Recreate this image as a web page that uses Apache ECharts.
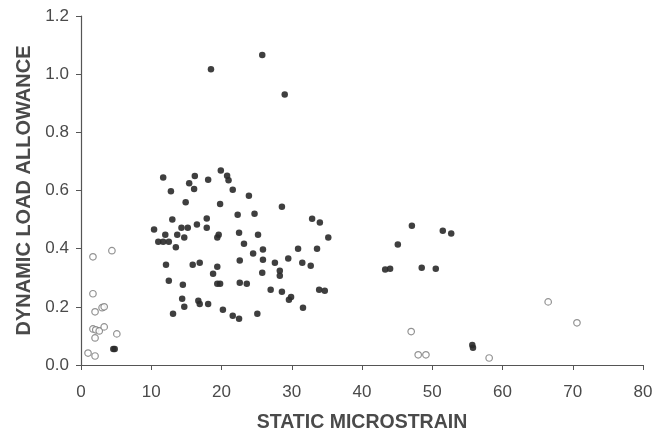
<!DOCTYPE html>
<html>
<head>
<meta charset="utf-8">
<script src="https://cdn.jsdelivr.net/npm/echarts@6/dist/echarts.min.js"></script>
<style>html,body{margin:0;padding:0;background:#fff}#c{width:659px;height:432px}</style>
</head>
<body>
<div id="c"></div>
<script>
// Filled points: [static microstrain, dynamic load allowance]
const filledPoints = [
  [18.5,1.017],[25.8,1.066],[29.0,0.930],
  [11.7,0.645],[12.8,0.597],[16.2,0.650],[15.4,0.625],[16.1,0.605],[18.1,0.637],
  [14.9,0.560],[19.8,0.554],[19.9,0.669],[20.8,0.651],[21.0,0.635],[21.6,0.603],
  [23.9,0.582],[22.3,0.517],[24.7,0.520],[28.6,0.544],[32.9,0.503],[34.0,0.490],
  [13.0,0.500],[17.9,0.504],
  [10.4,0.466],[12.0,0.448],[11.0,0.424],[11.7,0.424],[12.5,0.424],
  [14.3,0.472],[15.2,0.472],[16.5,0.483],[17.9,0.472],[13.7,0.448],[14.7,0.438],
  [13.5,0.405],[19.6,0.448],[19.4,0.438],[22.5,0.455],[23.2,0.417],[25.2,0.448],
  [35.2,0.438],[24.5,0.383],[25.9,0.397],[30.9,0.400],[33.6,0.400],
  [12.1,0.345],[15.9,0.345],[16.9,0.352],[19.4,0.338],[18.8,0.314],[22.6,0.359],
  [25.9,0.362],[27.6,0.352],[29.5,0.366],[31.5,0.352],[32.7,0.341],
  [28.3,0.324],[28.3,0.307],[25.8,0.317],
  [12.5,0.290],[14.5,0.276],[19.4,0.279],[19.8,0.279],[22.6,0.283],[23.6,0.279],
  [27.0,0.259],[28.6,0.252],[33.9,0.259],[34.7,0.255],[29.9,0.234],[29.6,0.224],
  [14.4,0.228],[14.7,0.200],[16.7,0.221],[16.9,0.210],[18.1,0.210],[20.2,0.190],
  [31.6,0.197],[13.1,0.176],[21.6,0.169],[22.5,0.159],[25.1,0.176],
  [4.6,0.055],[4.8,0.055],
  [47.1,0.479],[51.5,0.462],[52.7,0.452],[45.1,0.414],[43.3,0.328],[44.0,0.331],
  [48.5,0.334],[50.5,0.331],[55.7,0.069],[55.8,0.059]
];
// Open circles
const openPoints = [
  [1.7,0.372],[4.4,0.393],[1.7,0.245],[2.0,0.183],[3.0,0.197],[3.3,0.200],
  [1.7,0.124],[2.1,0.121],[2.6,0.117],[3.3,0.131],[2.0,0.093],[5.1,0.107],
  [1.0,0.041],[2.0,0.031],
  [47.0,0.115],[48.0,0.035],[49.1,0.035],[58.1,0.024],[66.5,0.217],[70.6,0.145]
];
const xTicks = [0,10,20,30,40,50,60,70,80];
const yTicks = [0,0.2,0.4,0.6,0.8,1.0,1.2];
const xTitle = 'STATIC MICROSTRAIN';
const yTitle = 'DYNAMIC LOAD ALLOWANCE';

const chart = echarts.init(document.getElementById('c'), null, {renderer:'canvas'});
const axisCol = '#555';
const txtCol = '#4a4a4a';
const font = 'Liberation Sans';
chart.setOption({
  animation:false,
  backgroundColor:'#fff',
  grid:{left:81,right:16,top:16,bottom:67,containLabel:false,outerBoundsMode:'none'},
  xAxis:{
    type:'value',min:xTicks[0],max:xTicks[xTicks.length-1],interval:10,
    splitLine:{show:false},
    axisLine:{show:true,lineStyle:{color:axisCol,width:1.2}},
    axisTick:{show:true,inside:false,length:5,lineStyle:{color:axisCol}},
    axisLabel:{color:txtCol,fontFamily:font,fontSize:17,margin:19},
    name:xTitle,nameLocation:'middle',nameGap:48,
    nameTextStyle:{color:txtCol,fontFamily:font,fontWeight:'bold',fontSize:19.5}
  },
  yAxis:{
    type:'value',min:yTicks[0],max:yTicks[yTicks.length-1],interval:0.2,
    splitLine:{show:false},
    axisLine:{show:true,lineStyle:{color:axisCol,width:1.2}},
    axisTick:{show:true,inside:false,length:5,lineStyle:{color:axisCol}},
    axisLabel:{color:txtCol,fontFamily:font,fontSize:17,margin:12,formatter:v=>v.toFixed(1)},
    name:yTitle,nameLocation:'middle',nameGap:46,nameRotate:90,
    nameTextStyle:{color:txtCol,fontFamily:font,fontWeight:'bold',fontSize:20}
  },
  series:[
    {type:'scatter',data:filledPoints,symbol:'circle',symbolSize:6.5,
     itemStyle:{color:'#2a2a2a',opacity:0.9}},
    {type:'scatter',data:openPoints,symbol:'circle',symbolSize:6.5,
     itemStyle:{color:'#fff',borderColor:'#777',borderWidth:1.2}}
  ]
});
</script>
</body>
</html>
